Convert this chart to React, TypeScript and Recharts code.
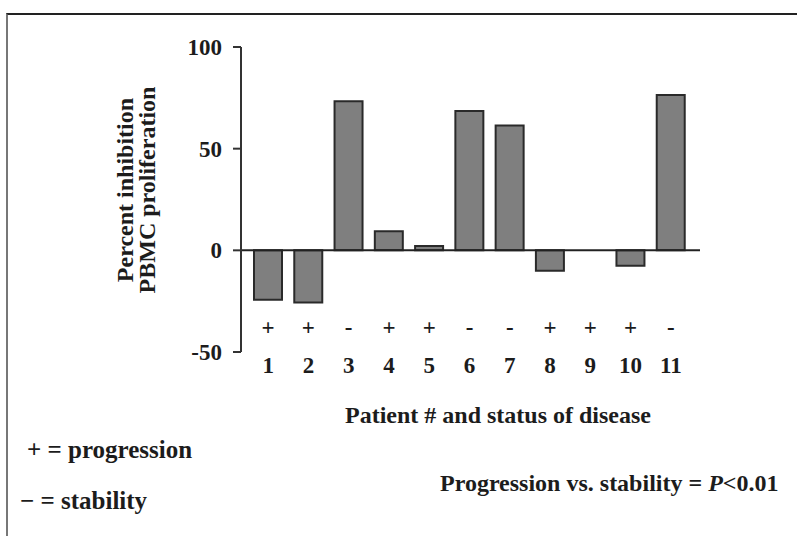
import React from 'react';
import { BarChart, Bar, XAxis, YAxis, ReferenceLine } from 'recharts';

const patients = ['1', '2', '3', '4', '5', '6', '7', '8', '9', '10', '11'];
const diseaseStatus = ['+', '+', '-', '+', '+', '-', '-', '+', '+', '+', '-'];
const inhibition = [-24.3, -25.6, 73.3, 9.4, 2.1, 68.5, 61.4, -10.1, 0, -7.6, 76.4];
const yTicks = [-50, 0, 50, 100];

const data = patients.map((p, i) => ({ patient: p, status: diseaseStatus[i], value: inhibition[i] }));

const FONT = '"Liberation Serif", "Times New Roman", serif';
const INK = '#1c1c1c';

const PatientTick = (props: any) => {
  const { x, y, payload } = props;
  const i = patients.indexOf(String(payload.value));
  return (
    <g>
      <text x={x} y={y - 25} textAnchor="middle" dominantBaseline="central" fontFamily={FONT} fontWeight="bold" fontSize={23} fill={INK}>
        {diseaseStatus[i]}
      </text>
      <text x={x} y={y + 13} textAnchor="middle" dominantBaseline="central" fontFamily={FONT} fontWeight="bold" fontSize={23} fill={INK}>
        {payload.value}
      </text>
    </g>
  );
};

export default function App() {
  return (
    <div style={{ position: 'absolute', left: 0, top: 0, width: 797, height: 536, background: '#fff' }}>
      <div
        style={{
          position: 'absolute',
          left: 6,
          top: 13,
          width: 791,
          height: 523,
          borderTop: '2px solid #222',
          borderLeft: '2px solid #777',
          boxSizing: 'border-box',
        }}
      />
      <BarChart
        width={797}
        height={536}
        data={data}
        margin={{ top: 47, right: 97, bottom: 154, left: 181 }}
        barSize={28}
        style={{ position: 'absolute', left: 0, top: 0 }}
      >
        <XAxis
          dataKey="patient"
          axisLine={false}
          tickLine={false}
          tickSize={0}
          tickMargin={0}
          height={30}
          interval={0}
          padding={{ left: 7, right: 9 }}
          tick={<PatientTick />}
        />
        <YAxis
          domain={[-50, 100]}
          ticks={yTicks}
          width={60}
          allowDataOverflow
          axisLine={{ stroke: '#333', strokeWidth: 2 }}
          tickLine={{ stroke: '#333', strokeWidth: 2 }}
          tickSize={8}
          tickMargin={11}
          tick={{ fontFamily: FONT, fontWeight: 'bold', fontSize: 23, fill: INK }}
        />
        <ReferenceLine y={0} stroke="#222" strokeWidth={2} />
        <Bar dataKey="value" fill="#7f7f7f" stroke="#2a2a2a" strokeWidth={2} isAnimationActive={false} />
        <text x={125} y={190} transform="rotate(-90, 125, 190)" textAnchor="middle" dominantBaseline="central" fontFamily={FONT} fontWeight="bold" fontSize={24} fill={INK}>
          Percent inhibition
        </text>
        <text x={147} y={190} transform="rotate(-90, 147, 190)" textAnchor="middle" dominantBaseline="central" fontFamily={FONT} fontWeight="bold" fontSize={24} fill={INK}>
          PBMC proliferation
        </text>
        <text x={498} y={423} textAnchor="middle" fontFamily={FONT} fontWeight="bold" fontSize={24} fill={INK}>
          Patient # and status of disease
        </text>
        <text x={27} y={458} textAnchor="start" fontFamily={FONT} fontWeight="bold" fontSize={25} fill={INK}>
          + = progression
        </text>
        <text x={20} y={509} textAnchor="start" fontFamily={FONT} fontWeight="bold" fontSize={25} fill={INK}>
          − = stability
        </text>
        <text x={440} y={491} textAnchor="start" fontFamily={FONT} fontWeight="bold" fontSize={24} fill={INK}>
          Progression vs. stability = <tspan fontStyle="italic">P</tspan>&lt;0.01
        </text>
      </BarChart>
    </div>
  );
}
